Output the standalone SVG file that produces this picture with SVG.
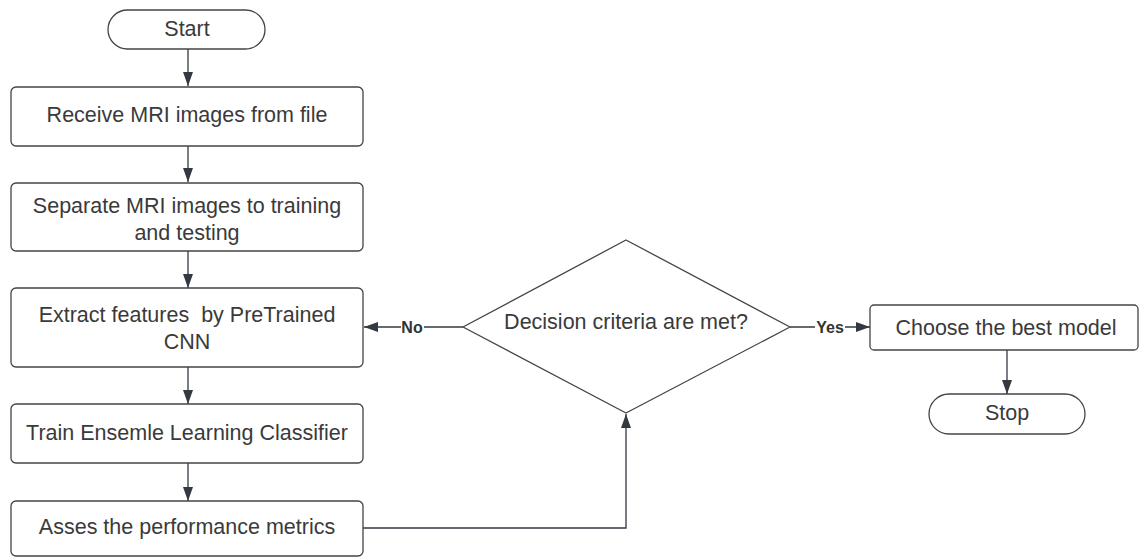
<svg xmlns="http://www.w3.org/2000/svg" width="1140" height="557" viewBox="0 0 1140 557">
<defs>
<marker id="ah" viewBox="0 0 14 12" refX="14" refY="6" markerWidth="14" markerHeight="12" markerUnits="userSpaceOnUse" orient="auto">
<path d="M0,1 L14,6 L0,11 Z" fill="#333842"/>
</marker>
<style>
.shape{fill:#fff;stroke:#444;stroke-width:1.3}
.t{font-family:"Liberation Sans",Arial,sans-serif;font-size:21.5px;fill:#3a3a3a;text-anchor:middle;dominant-baseline:central}
.lbl{font-family:"Liberation Sans",Arial,sans-serif;font-size:16px;font-weight:bold;fill:#333;text-anchor:middle;dominant-baseline:central}
.c{fill:none;stroke:#333842;stroke-width:1.3;marker-end:url(#ah)}
.lb{fill:#fff}
</style>
</defs>
<rect width="1140" height="557" fill="#fff"/>
<g id="connectors">
<path class="c" d="M188,49 V86"/>
<path class="c" d="M188,146 V182"/>
<path class="c" d="M188,251 V288"/>
<path class="c" d="M188,367 V404"/>
<path class="c" d="M188,463 V501"/>
<path class="c" d="M463,327 H364"/>
<rect class="lb" x="401" y="318" width="23" height="18"/>
<text class="lbl" x="412" y="327">No</text>
<path class="c" d="M790,327 H870"/>
<rect class="lb" x="815" y="318" width="30" height="18"/>
<text class="lbl" x="830" y="327">Yes</text>
<path class="c" d="M363,528 H626 V414"/>
<path class="c" d="M1007,350 V394"/>
</g>
<g id="start">
<rect class="shape" x="108" y="10" width="157" height="39" rx="19.5"/>
<text class="t" x="187" y="29">Start</text>
</g>
<g id="receive">
<rect class="shape" x="11" y="87" width="352" height="59" rx="5"/>
<text class="t" x="187" y="115">Receive MRI images from file</text>
</g>
<g id="separate">
<rect class="shape" x="11" y="183" width="352" height="68" rx="5"/>
<text class="t" x="187" y="206">Separate MRI images to training</text>
<text class="t" x="187" y="233">and testing</text>
</g>
<g id="extract">
<rect class="shape" x="11" y="288" width="352" height="79" rx="5"/>
<text class="t" x="187" y="315" xml:space="preserve">Extract features  by PreTrained</text>
<text class="t" x="187" y="342">CNN</text>
</g>
<g id="train">
<rect class="shape" x="11" y="404" width="352" height="59" rx="5"/>
<text class="t" x="187" y="433">Train Ensemle Learning Classifier</text>
</g>
<g id="assess">
<rect class="shape" x="11" y="501" width="352" height="55" rx="5"/>
<text class="t" x="187" y="527">Asses the performance metrics</text>
</g>
<g id="decision">
<path class="shape" d="M626,240 L790,327 L626,413 L463,327 Z" stroke-linejoin="round"/>
<text class="t" x="626" y="322">Decision criteria are met?</text>
</g>
<g id="choose">
<rect class="shape" x="870" y="305" width="268" height="45" rx="4"/>
<text class="t" x="1006" y="328">Choose the best model</text>
</g>
<g id="stop">
<rect class="shape" x="929" y="394" width="156" height="40" rx="20"/>
<text class="t" x="1007" y="413">Stop</text>
</g>
</svg>
